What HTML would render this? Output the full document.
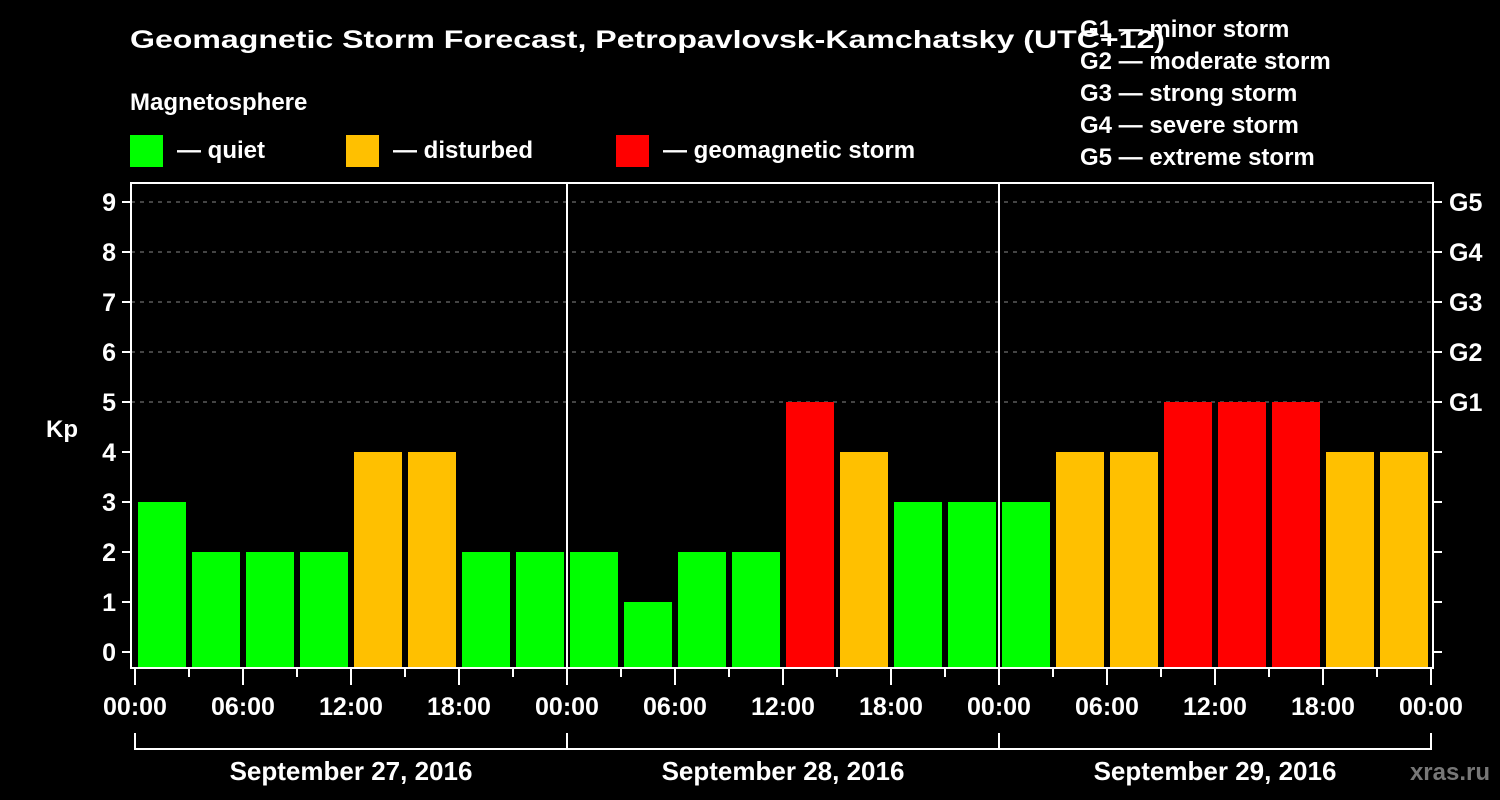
<!DOCTYPE html>
<html><head><meta charset="utf-8"><style>
html,body{margin:0;padding:0;background:#000;}
svg{display:block;font-family:"Liberation Sans",Arial,sans-serif;font-weight:bold;}
</style></head><body>
<svg id="chart" width="1500" height="800" viewBox="0 0 1500 800">
<rect x="0" y="0" width="1500" height="800" fill="#000"/>
<text x="130" y="48" font-size="25" fill="#fff" textLength="1035" lengthAdjust="spacingAndGlyphs">Geomagnetic Storm Forecast, Petropavlovsk-Kamchatsky (UTC+12)</text>
<text x="130" y="110" font-size="24" fill="#fff">Magnetosphere</text>
<g><rect x="130" y="135" width="33" height="32" fill="#00ff00"/><text x="177" y="158" font-size="24" fill="#fff">— quiet</text></g>
<g><rect x="346" y="135" width="33" height="32" fill="#ffc000"/><text x="393" y="158" font-size="24" fill="#fff">— disturbed</text></g>
<g><rect x="616" y="135" width="33" height="32" fill="#ff0000"/><text x="663" y="158" font-size="24" fill="#fff">— geomagnetic storm</text></g>
<g font-size="24" fill="#fff">
<text x="1080" y="37">G1 — minor storm</text>
<text x="1080" y="69">G2 — moderate storm</text>
<text x="1080" y="101">G3 — strong storm</text>
<text x="1080" y="133">G4 — severe storm</text>
<text x="1080" y="165">G5 — extreme storm</text>
</g>
<g id="grid"></g>
<g id="bars"></g>
<g id="axes"></g>
<text x="62" y="437" font-size="24" fill="#fff" text-anchor="middle">Kp</text>
<text x="1490" y="780" font-size="24" fill="#777" text-anchor="end">xras.ru</text>
</svg>
<script>
const days = ["September 27, 2016","September 28, 2016","September 29, 2016"];
const kpValues = [3,2,2,2,4,4,2,2, 2,1,2,2,5,4,3,3, 3,4,4,5,5,5,4,4];
const yTicks = [0,1,2,3,4,5,6,7,8,9];
const gLabels = ["G1","G2","G3","G4","G5"];
const xTickLabels = ["00:00","06:00","12:00","18:00"];

const NS="http://www.w3.org/2000/svg";
const L=131,R=1433,T=183,B=668;
const x0=135, hourPx=18;
function xs(h){return x0+h*hourPx;}
function ys(v){return 652-v*50;}
function mk(parent,tag,attrs){const e=document.createElementNS(NS,tag);for(const k in attrs)e.setAttribute(k,attrs[k]);document.getElementById(parent).appendChild(e);return e;}

// gridlines for G levels
gLabels.forEach((g,i)=>{
  const v=5+i;
  const ln=mk('grid','line',{x1:L,x2:R,y1:ys(v),y2:ys(v),stroke:'#888','stroke-dasharray':'4,5','stroke-width':1});
  
  
  const t=mk('axes','text',{x:1449,y:ys(v)+9,'font-size':25,fill:'#fff'});
  t.textContent=g;
  
  
});
// bars
kpValues.forEach((v,i)=>{
  const col=v>=5?'#ff0000':(v>=4?'#ffc000':'#00ff00');
  const r=mk('bars','rect',{x:xs(i*3)+3,y:ys(v),width:48,height:667.5-ys(v),fill:col});
  
  
});
// frame
const fr=mk('axes','rect',{x:L,y:T,width:R-L,height:B-T,fill:'none',stroke:'#fff','stroke-width':2});


for(let d=1;d<days.length;d++){
  const l=mk('axes','line',{x1:xs(d*24),x2:xs(d*24),y1:T,y2:B,stroke:'#fff','stroke-width':2});
  
  
}
// y ticks
yTicks.forEach(v=>{
  const a=mk('axes','line',{x1:122,x2:L,y1:ys(v),y2:ys(v),stroke:'#fff','stroke-width':2});
  
  
  const b=mk('axes','line',{x1:R,x2:1442,y1:ys(v),y2:ys(v),stroke:'#fff','stroke-width':2});
  
  
  const t=mk('axes','text',{x:116,y:ys(v)+9,'font-size':25,fill:'#fff','text-anchor':'end'});
  t.textContent=v;
  
  
});
// x ticks
for(let h=0;h<=days.length*24;h+=3){
  const major=h%6===0;
  const a=mk('axes','line',{x1:xs(h),x2:xs(h),y1:B,y2:major?685:677,stroke:'#fff','stroke-width':2});
  
  
  if(major){
    const t=mk('axes','text',{x:xs(h),y:715,'font-size':25,fill:'#fff','text-anchor':'middle'});
    t.textContent=xTickLabels[(h/6)%4];
    
    
  }
}
// date brackets
days.forEach((d,i)=>{
  const xa=xs(i*24), xb=xs((i+1)*24);
  const p=mk('axes','path',{d:`M${xa},733V749H${xb}V733`,fill:'none',stroke:'#fff','stroke-width':2});
  
  
  const t=mk('axes','text',{x:(xa+xb)/2,y:780,'font-size':26,fill:'#fff','text-anchor':'middle'});
  t.textContent=d;
  
  
});
</script>
</body></html>
